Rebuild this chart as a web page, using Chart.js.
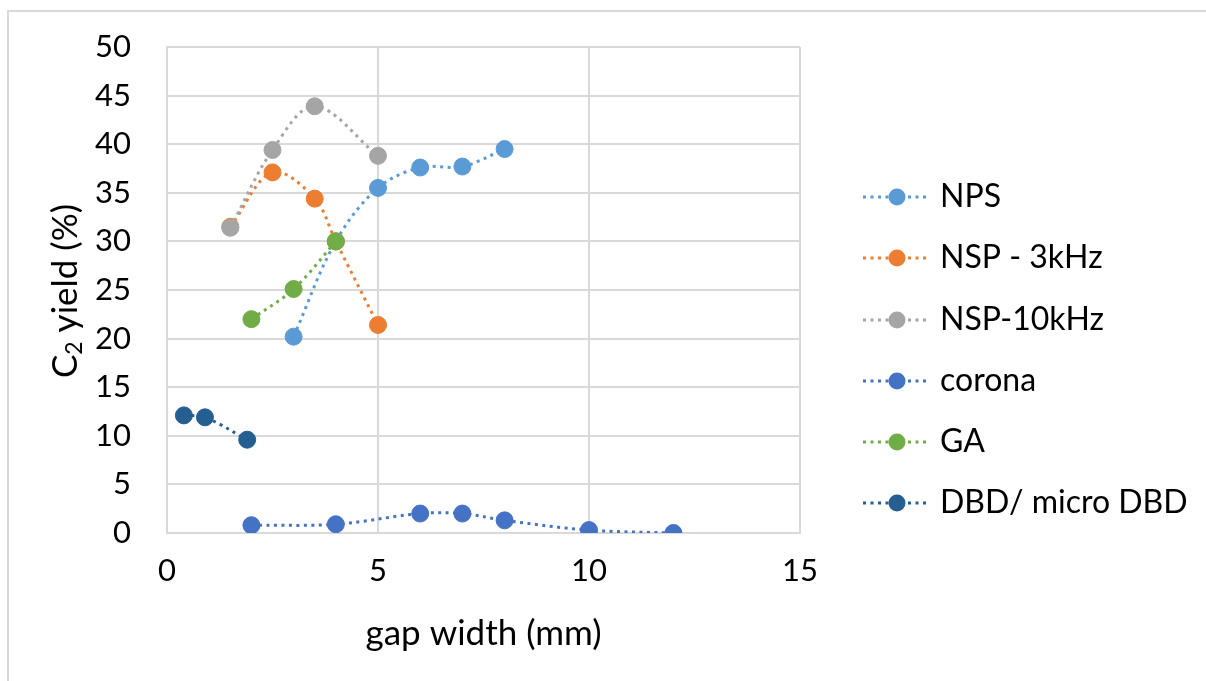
<!DOCTYPE html>
<html>
<head>
<meta charset="utf-8">
<script src="https://cdn.jsdelivr.net/npm/chart.js@4"></script>
<style>
  html, body { margin: 0; padding: 0; background: #fff; }
  .frame { position: absolute; left: 7px; top: 10px; width: 1199px; height: 671px;
           border-left: 2px solid #d9d9d9; border-top: 2px solid #d9d9d9; box-sizing: border-box; }
  .wrap { position: absolute; left: 0; top: 0; width: 1206px; height: 681px; }
</style>
</head>
<body>
<div class="frame"></div>
<div class="wrap"><canvas id="chart" width="1206" height="681"></canvas></div>
<script>
const seriesNames = ["NPS", "NSP - 3kHz", "NSP-10kHz", "corona", "GA", "DBD/ micro DBD"];
const seriesColors = ["#5b9bd5", "#ed7d31", "#a5a5a5", "#4472c4", "#70ad47", "#255e91"];

const npsX = [3, 4, 5, 6, 7, 8];
const npsY = [20.2, 30, 35.5, 37.6, 37.7, 39.5];
const nsp3X = [1.5, 2.5, 3.5, 4, 5];
const nsp3Y = [31.5, 37.1, 34.4, 30, 21.4];
const nsp10X = [1.5, 2.5, 3.5, 5];
const nsp10Y = [31.4, 39.4, 43.9, 38.8];
const coronaX = [2, 4, 6, 7, 8, 10, 12];
const coronaY = [0.8, 0.9, 2.0, 2.0, 1.3, 0.3, 0];
const gaX = [2, 3, 4];
const gaY = [22, 25.1, 30];
const dbdX = [0.4, 0.9, 1.9];
const dbdY = [12.1, 11.9, 9.6];

const xTicks = [0, 5, 10, 15];
const yTicks = [0, 5, 10, 15, 20, 25, 30, 35, 40, 45, 50];

const FONT = "Lato";
const TICK_FS = 31;
const LEGEND_FS = 32;
const TITLE_FS = 35;

function pts(xs, ys) {
  return xs.map((x, i) => ({ x: x, y: ys[i] }));
}

const allX = [npsX, nsp3X, nsp10X, coronaX, gaX, dbdX];
const allY = [npsY, nsp3Y, nsp10Y, coronaY, gaY, dbdY];

const datasets = seriesNames.map((name, i) => ({
  label: name,
  data: pts(allX[i], allY[i]),
  borderColor: seriesColors[i],
  backgroundColor: seriesColors[i],
  pointBackgroundColor: seriesColors[i],
  pointBorderColor: seriesColors[i],
  pointRadius: 8.5,
  pointHoverRadius: 8.5,
  pointBorderWidth: 1,
  borderWidth: 3,
  borderDash: [3, 4.5],
  showLine: true,
  tension: 0.35,
  order: seriesNames.length - i
}));

// legend with dotted line + marker, drawn on the canvas
const sideLegend = {
  id: "sideLegend",
  afterDraw(chart) {
    const ctx = chart.ctx;
    const rows = [197, 258, 320, 381, 442, 503];
    ctx.save();
    seriesNames.forEach((name, i) => {
      const y = rows[i];
      ctx.strokeStyle = seriesColors[i];
      ctx.lineWidth = 3;
      ctx.setLineDash([3, 4.5]);
      ctx.beginPath();
      ctx.moveTo(863, y);
      ctx.lineTo(928, y);
      ctx.stroke();
      ctx.setLineDash([]);
      ctx.fillStyle = seriesColors[i];
      ctx.beginPath();
      ctx.arc(897, y, 8.5, 0, Math.PI * 2);
      ctx.fill();
      ctx.fillStyle = "#000";
      ctx.font = LEGEND_FS + "px " + FONT;
      ctx.textBaseline = "middle";
      ctx.textAlign = "left";
      ctx.fillText(name, 940, y);
    });
    ctx.restore();
  }
};

// axis titles (y title needs a subscript 2)
const axisTitles = {
  id: "axisTitles",
  afterDraw(chart) {
    const ctx = chart.ctx;
    const a = chart.chartArea;
    ctx.save();
    ctx.fillStyle = "#000";
    ctx.textBaseline = "middle";
    ctx.font = TITLE_FS + "px " + FONT;
    ctx.textAlign = "center";
    ctx.fillText("gap width (mm)", (a.left + a.right) / 2, 634);

    const big = TITLE_FS + "px " + FONT;
    const small = Math.round(TITLE_FS * 0.65) + "px " + FONT;
    ctx.font = big;
    const wC = ctx.measureText("C").width;
    const wRest = ctx.measureText(" yield (%)").width;
    ctx.font = small;
    const w2 = ctx.measureText("2").width;
    const total = wC + w2 + wRest;
    ctx.translate(66, 291);
    ctx.rotate(-Math.PI / 2);
    ctx.textAlign = "left";
    let x = -total / 2;
    ctx.font = big;
    ctx.fillText("C", x, 0);
    x += wC;
    ctx.font = small;
    ctx.fillText("2", x, 9);
    x += w2;
    ctx.font = big;
    ctx.fillText(" yield (%)", x, 0);
    ctx.restore();
  }
};

new Chart(document.getElementById("chart"), {
  type: "scatter",
  data: { datasets: datasets },
  options: {
    responsive: false,
    animation: false,
    layout: { padding: { left: 0, top: 47, right: 406, bottom: 0 } },
    plugins: {
      legend: { display: false },
      tooltip: { enabled: false }
    },
    scales: {
      x: {
        type: "linear",
        min: 0,
        max: 15,
        afterFit(scale) { scale.height = 148; },
        afterBuildTicks(scale) { scale.ticks = xTicks.map(v => ({ value: v })); },
        grid: { color: "#d9d9d9", lineWidth: 2, drawTicks: false },
        border: { color: "#d9d9d9", width: 2 },
        ticks: { color: "#000", font: { family: FONT, size: TICK_FS }, padding: 19, maxRotation: 0 }
      },
      y: {
        type: "linear",
        min: 0,
        max: 50,
        afterFit(scale) {
          scale.width = 167;
          scale.paddingTop = 0;
          scale.paddingBottom = 0;
        },
        afterBuildTicks(scale) { scale.ticks = yTicks.map(v => ({ value: v })); },
        grid: { color: "#d9d9d9", lineWidth: 2, drawTicks: false },
        border: { color: "#d9d9d9", width: 2 },
        ticks: { color: "#000", font: { family: FONT, size: TICK_FS }, padding: 36 }
      }
    }
  },
  plugins: [sideLegend, axisTitles]
});
</script>
</body>
</html>
